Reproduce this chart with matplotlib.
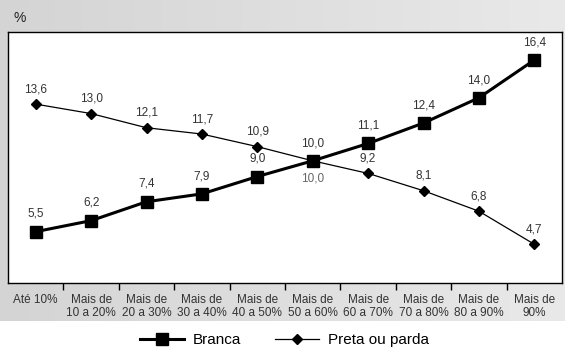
import numpy as np
import matplotlib
matplotlib.use('Agg')
import matplotlib.pyplot as plt
from matplotlib.ticker import FixedLocator
from matplotlib.colors import LinearSegmentedColormap

plt.rcParams['font.family'] = ['Liberation Sans', 'DejaVu Sans']

categories = ['Até 10%', 'Mais de\n10 a 20%', 'Mais de\n20 a 30%', 'Mais de\n30 a 40%',
              'Mais de\n40 a 50%', 'Mais de\n50 a 60%', 'Mais de\n60 a 70%', 'Mais de\n70 a 80%',
              'Mais de\n80 a 90%', 'Mais de\n90%']
branca = [5.5, 6.2, 7.4, 7.9, 9.0, 10.0, 11.1, 12.4, 14.0, 16.4]
preta = [13.6, 13.0, 12.1, 11.7, 10.9, 10.0, 9.2, 8.1, 6.8, 4.7]

fig = plt.figure(figsize=(5.69, 3.51), dpi=100)

# gray gradient panel behind the chart
bg = fig.add_axes([0, (351 - 321) / 351, 565 / 569, 321 / 351], zorder=0)
grad = np.linspace(0, 1, 256).reshape(1, -1)
bg.imshow(grad, aspect='auto', extent=[0, 1, 0, 1],
          cmap=LinearSegmentedColormap.from_list('g', ['#d4d4d4', '#e9e9e9']))
bg.axis('off')

ax = fig.add_axes([8 / 569, (351 - 283) / 351, 554 / 569, 251 / 351], zorder=1)
ax.set_facecolor('white')
x = np.arange(len(categories))

ax.plot(x, branca, color='black', lw=2.2, marker='s', ms=9, label='Branca', zorder=3)
ax.plot(x, preta, color='black', lw=0.9, marker='D', ms=5, label='Preta ou parda', zorder=2)

for i, v in enumerate(branca):
    ax.annotate(f'{v:.1f}'.replace('.', ','), (i, v), xytext=(0, 8.5), textcoords='offset points',
                ha='center', va='bottom', fontsize=8.5, color='#333333')
for i, v in enumerate(preta):
    if i == 5:
        ax.annotate(f'{v:.1f}'.replace('.', ','), (i, v), xytext=(0, -8.5), textcoords='offset points',
                    ha='center', va='top', fontsize=8.5, color='#666666')
    else:
        ax.annotate(f'{v:.1f}'.replace('.', ','), (i, v), xytext=(0, 6.5), textcoords='offset points',
                    ha='center', va='bottom', fontsize=8.5, color='#333333')

ax.set_xlim(-0.5, len(categories) - 0.5)
ax.set_ylim(2.24, 18.18)
ax.set_yticks([])
ax.set_xticks(x)
ax.set_xticklabels(categories, fontsize=8.5, color='#333333', linespacing=1.1)
ax.tick_params(axis='x', which='major', length=0, pad=8)
ax.xaxis.set_minor_locator(FixedLocator(np.arange(0.5, len(categories) - 1, 1)))
ax.tick_params(axis='x', which='minor', length=5, width=1, direction='out')
for s in ax.spines.values():
    s.set_linewidth(1)

fig.text(14 / 569, 1 - 18 / 351, '%', fontsize=10, color='#222222', ha='left', va='center')

fig.legend(loc='center', bbox_to_anchor=(0.5, 1 - 340 / 351), ncol=2, frameon=False,
           fontsize=11, handlelength=2.9, columnspacing=2.2, handletextpad=0.6)

fig.savefig('out.png', dpi=100)
